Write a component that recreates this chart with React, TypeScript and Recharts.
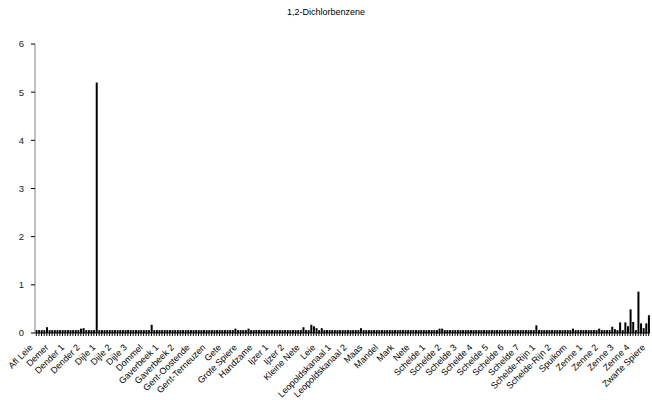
import { BarChart, Bar, XAxis, YAxis } from 'recharts'

const FONT = "'Liberation Sans', Arial, sans-serif"

const stations = [
  'Afl Leie', 'Demer', 'Dender 1', 'Dender 2', 'Dijle 1', 'Dijle 2', 'Dijle 3', 'Dommel',
  'Gaverbeek 1', 'Gaverbeek 2', 'Gent-Oostende', 'Gent-Terneuzen', 'Gete', 'Grote Spiere',
  'Handzame', 'Ijzer 1', 'Ijzer 2', 'Kleine Nete', 'Leie', 'Leopoldskanaal 1',
  'Leopoldskanaal 2', 'Maas', 'Mandel', 'Mark', 'Nete', 'Schelde 1', 'Schelde 2',
  'Schelde 3', 'Schelde 4', 'Schelde 5', 'Schelde 6', 'Schelde 7', 'Schelde-Rijn 1',
  'Schelde-Rijn 2', 'Spuikom', 'Zenne 1', 'Zenne 2', 'Zenne 3', 'Zenne 4', 'Zwarte Spiere',
]

// measurements per station (µg/l), in sampling order
const readings = [
  [0.06, 0.06, 0.06, 0.06, 0.12, 0.06],
  [0.06, 0.06, 0.06, 0.06, 0.06, 0.06],
  [0.06, 0.06, 0.06, 0.06, 0.06, 0.09],
  [0.1, 0.06, 0.06, 0.06, 0.06, 5.2],
  [0.06, 0.06, 0.06, 0.06, 0.06, 0.06],
  [0.06, 0.06, 0.06, 0.06, 0.06, 0.06],
  [0.06, 0.06, 0.06, 0.06, 0.06, 0.06],
  [0.06, 0.06, 0.17, 0.06, 0.06, 0.06],
  [0.06, 0.06, 0.06, 0.06, 0.06, 0.06],
  [0.06, 0.06, 0.06, 0.06, 0.06, 0.06],
  [0.06, 0.06, 0.06, 0.06, 0.06, 0.06],
  [0.06, 0.06, 0.06, 0.06, 0.06, 0.06],
  [0.06, 0.06, 0.06, 0.06, 0.09, 0.06],
  [0.06, 0.06, 0.06, 0.09, 0.06, 0.06],
  [0.06, 0.06, 0.06, 0.06, 0.06, 0.06],
  [0.06, 0.06, 0.06, 0.06, 0.06, 0.06],
  [0.06, 0.06, 0.06, 0.06, 0.06, 0.06],
  [0.12, 0.06, 0.06, 0.17, 0.14, 0.1],
  [0.06, 0.1, 0.06, 0.06, 0.06, 0.06],
  [0.06, 0.06, 0.06, 0.06, 0.06, 0.06],
  [0.06, 0.06, 0.06, 0.06, 0.1, 0.06],
  [0.06, 0.06, 0.06, 0.06, 0.06, 0.06],
  [0.06, 0.06, 0.06, 0.06, 0.06, 0.06],
  [0.06, 0.06, 0.06, 0.06, 0.06, 0.06],
  [0.06, 0.06, 0.06, 0.06, 0.06, 0.06],
  [0.06, 0.06, 0.06, 0.06, 0.09, 0.09],
  [0.06, 0.06, 0.06, 0.06, 0.06, 0.06],
  [0.06, 0.06, 0.06, 0.06, 0.06, 0.06],
  [0.06, 0.06, 0.06, 0.06, 0.06, 0.06],
  [0.06, 0.06, 0.06, 0.06, 0.06, 0.06],
  [0.06, 0.06, 0.06, 0.06, 0.06, 0.06],
  [0.06, 0.06, 0.06, 0.06, 0.06, 0.16],
  [0.06, 0.06, 0.06, 0.06, 0.06, 0.06],
  [0.06, 0.06, 0.06, 0.06, 0.06, 0.06],
  [0.06, 0.09, 0.06, 0.06, 0.06, 0.06],
  [0.06, 0.06, 0.06, 0.06, 0.06, 0.09],
  [0.06, 0.06, 0.06, 0.06, 0.13, 0.08],
  [0.06, 0.22, 0.06, 0.22, 0.14, 0.49],
  [0.23, 0.06, 0.86, 0.2, 0.1, 0.2],
  [0.37],
]

const yTicks = [0, 1, 2, 3, 4, 5, 6]

const rows = stations
  .flatMap((name, s) => readings[s].map((v, k) => ({ label: k === 0 ? name : '', value: v })))
  .map((r, i) => ({ ...r, i }))

function StationTick({ x, y, payload }: { x: number; y: number; payload: { value: number } }) {
  const label = rows[payload.value]?.label
  if (!label) return null
  return (
    <text
      transform={`translate(${x - 3},${y + 10}) rotate(-45)`}
      textAnchor="end"
      fontSize={9}
      fontFamily={FONT}
      fill="#000"
    >
      {label}
    </text>
  )
}

export default function App() {
  return (
    <div style={{ position: 'absolute', left: 0, top: 0, width: 652, height: 400, background: '#fff' }}>
      <div style={{
        position: 'absolute', left: 0, top: 7, width: 652, textAlign: 'center',
        fontFamily: FONT, fontSize: 9, color: '#000',
      }}>
        1,2-Dichlorbenzene
      </div>
      <BarChart
        width={652}
        height={400}
        data={rows}
        margin={{ top: 44, right: 2, left: 0, bottom: 0 }}
        barCategoryGap="20%"
      >
        <XAxis
          dataKey="i"
          interval={0}
          height={67}
          tick={StationTick as any}
          tickSize={3}
          tickLine={{ stroke: '#000' }}
          axisLine={{ stroke: '#000' }}
        />
        <YAxis
          domain={[0, 6]}
          ticks={yTicks}
          width={35}
          tickSize={4}
          tickLine={{ stroke: '#000' }}
          axisLine={{ stroke: '#808080' }}
          tick={{ fontSize: 9.5, fontFamily: FONT, fill: '#222', dx: -5 }}
        />
        <Bar dataKey="value" fill="#000" isAnimationActive={false} />
      </BarChart>
    </div>
  )
}
